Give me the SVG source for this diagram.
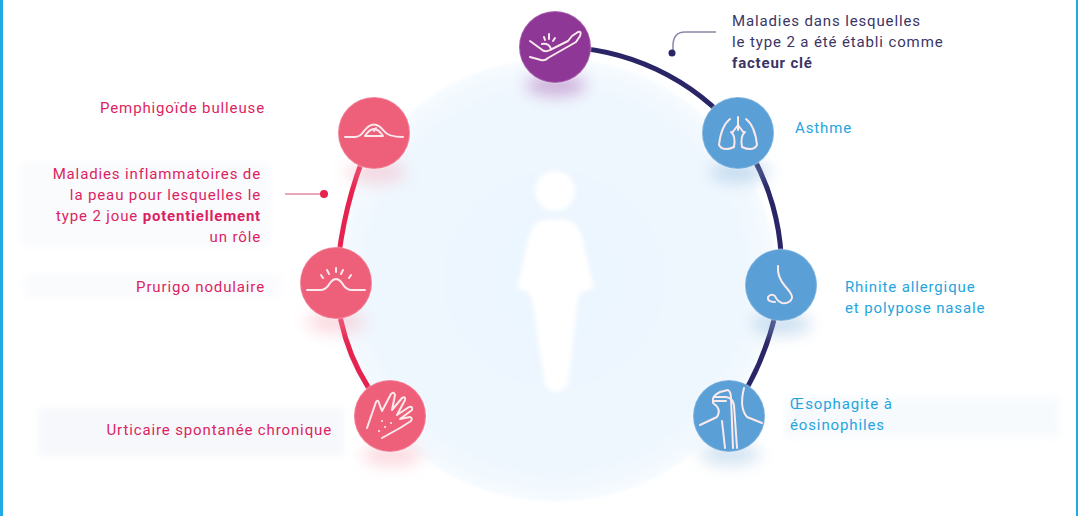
<svg xmlns="http://www.w3.org/2000/svg" width="1078" height="516" viewBox="0 0 1078 516">
<defs>
<style>
text{font-family:"Roboto","Liberation Sans",sans-serif;font-size:15px;letter-spacing:.87px}
.r{fill:#dc1f62;text-anchor:end}.b{fill:#25a5e0}.n{fill:#3a3565}
.bold{font-weight:700;letter-spacing:.8px}
.ic{fill:none;stroke:#fbe9ec;stroke-width:2;stroke-linecap:round;stroke-linejoin:round}
.ring{stroke:#fff;stroke-opacity:.22;stroke-width:2}
</style>
<filter id="bl" x="-60%" y="-100%" width="220%" height="300%"><feGaussianBlur stdDeviation="8"/></filter>
<filter id="soft" x="-20%" y="-20%" width="140%" height="140%"><feGaussianBlur stdDeviation="2"/></filter>
<filter id="haze" x="-10%" y="-30%" width="120%" height="160%"><feGaussianBlur stdDeviation="4"/></filter>
<radialGradient id="halo" cx=".5" cy=".5" r=".5"><stop offset="0" stop-color="#ebf5fe"/><stop offset=".85" stop-color="#eff7fe"/><stop offset="1" stop-color="#f5fafe"/></radialGradient>
</defs>
<rect width="1078" height="516" fill="#fff"/>
<rect x="0" y="0" width="3" height="516" fill="#1fa9e5"/>
<rect x="1076" y="0" width="2" height="516" fill="#1fa9e5"/>
<g id="backdrop">
<circle cx="555" cy="280" r="221" fill="url(#halo)" filter="url(#soft)"/>
<g fill="#fafbfd" filter="url(#haze)">
<rect x="20" y="162" width="250" height="85"/>
<rect x="24" y="274" width="258" height="24"/>
<rect x="38" y="408" width="306" height="48" fill="#f6f8fb"/>
<rect x="785" y="397" width="275" height="41" fill="#f7fafd"/>
</g>
<g id="figure" fill="#fff" filter="url(#soft)">
<circle cx="555" cy="191" r="20"/>
<path d="M538 222Q555 216 572 222Q582 228 585 250L594 288L582 292L578 300L568 385Q555 400 545 385L532 300L528 292L517 288L526 250Q529 228 538 222Z"/>
</g>
</g>
<g id="connectors" fill="none" stroke-width="5">
<path d="M555 47A235 235 0 0 1 738 133" stroke="#2a2566"/>
<path d="M738 133A235 235 0 0 1 781 285" stroke="#2a2566"/>
<path d="M781 285Q770 360 729 416" stroke="#2a2566"/>
<path d="M374 133Q342 200 336 283" stroke="#e5234e"/>
<path d="M336 283Q340 360 390 416" stroke="#e5234e"/>
<path d="M716 32H685Q673 32 673 46V53" stroke="#8a88a8" stroke-width="1.5"/>
<path d="M285 194H322" stroke="#e58aa3" stroke-width="1.5"/>
<circle cx="672" cy="53" r="3.5" fill="#2a2566" stroke="none"/>
<circle cx="324" cy="194" r="4" fill="#e5234e" stroke="none"/>
</g>
<g id="node-purple">
<ellipse cx="556" cy="85" rx="30" ry="11" fill="#a45ab0" opacity=".45" filter="url(#bl)"/>
<circle class="ring" cx="555" cy="47" r="36" fill="#8e3797"/>
<path class="ic" d="M530 41L541 49Q545 53 550 50L568 41L572 36L578 32Q582 31 580 36L576 42L548 58Q545 61 541 60L530 57"/>
<path class="ic" stroke-width="1.5" d="M542 44Q549 43 551 49M545 40L544 37M549 39L549 34M553 41L555 38"/>
</g>
<g id="node-asthme">
<ellipse cx="740" cy="172" rx="30" ry="11" fill="#8fb9df" opacity=".45" filter="url(#bl)"/>
<circle class="ring" cx="738" cy="133" r="36" fill="#5a9fd6"/>
<path class="ic" stroke-width="1.5" d="M738 117V130M738 125L732 133M738 125L744 133M730 119Q721 126 719 145Q723 152 734 147Q736 136 731 132M746 119Q755 126 757 145Q753 152 742 147Q740 136 745 132"/>
</g>
<g id="node-rhinite">
<ellipse cx="781" cy="324" rx="30" ry="11" fill="#8fb9df" opacity=".45" filter="url(#bl)"/>
<circle class="ring" cx="781" cy="285" r="36" fill="#5a9fd6"/>
<path class="ic" stroke-width="1.5" d="M778 266Q777 277 785 286Q793 295 792 298Q790 304 782 303Q777 301 775 296Q771 293 768 297Q767 302 775 302"/>
</g>
<g id="node-oesophagite">
<ellipse cx="730" cy="454" rx="30" ry="11" fill="#8fb9df" opacity=".4" filter="url(#bl)"/>
<circle class="ring" cx="729" cy="416" r="36" fill="#5a9fd6"/>
<path class="ic" stroke-width="1.5" d="M700 425L717 417Q722 409 713 403Q711 396 720 392L728 390Q731 392 731 398L733 448M737 448L734 405Q733 398 726 397L714 397M713 401L726 401M722 421L725 448M744 388Q739 408 747 417L762 423"/>
</g>
<g id="node-urticaire">
<ellipse cx="392" cy="455" rx="30" ry="11" fill="#f5a3b3" opacity=".4" filter="url(#bl)"/>
<circle class="ring" cx="390" cy="416" r="36" fill="#ee5f7a"/>
<path class="ic" stroke-width="1.7" d="M367 428L376 402Q378 399 379 403L382 411L391 394Q394 391 395 395L392 410L402 398Q406 396 405 400L397 415L409 407Q413 406 412 410L400 419L410 417Q413 418 411 421L400 428L382 438"/>
<path class="ic" stroke-width="2.5" d="M382 421h.1M391 423h.1M379 431h.1M385 427h.1"/>
</g>
<g id="node-prurigo">
<ellipse cx="336" cy="322" rx="30" ry="11" fill="#f5a3b3" opacity=".4" filter="url(#bl)"/>
<circle class="ring" cx="336" cy="283" r="36" fill="#ee5f7a"/>
<path class="ic" d="M307 290H321Q326 290 330 283Q336 275 342 283Q346 290 351 290H365"/>
<path class="ic" d="M321 275L323 278M327 270L329 274M336 268V272M343 270L341 274M351 275L349 278"/>
</g>
<g id="node-pemphigoide">
<ellipse cx="376" cy="172" rx="30" ry="11" fill="#f5a3b3" opacity=".4" filter="url(#bl)"/>
<circle class="ring" cx="374" cy="133" r="36" fill="#ee5f7a"/>
<path class="ic" d="M345 137H355Q360 137 364 131Q374 118 384 131Q388 137 403 137"/>
<path class="ic" stroke-width="1.5" d="M365 136Q374 122 383 136ZM374 131L376 128"/>
</g>
<g id="labels">
<text class="n" x="732" y="26">Maladies dans lesquelles</text>
<text class="n" x="732" y="47">le type 2 a été établi comme</text>
<text class="n bold" x="732" y="68">facteur clé</text>
<text class="b" x="795" y="133">Asthme</text>
<text class="b" x="845" y="292">Rhinite allergique</text>
<text class="b" x="845" y="313">et polypose nasale</text>
<text class="b" x="790" y="409">Œsophagite à</text>
<text class="b" x="790" y="430">éosinophiles</text>
<text class="r" x="265" y="113">Pemphigoïde bulleuse</text>
<text class="r" x="261" y="179">Maladies inflammatoires de</text>
<text class="r" x="261" y="200">la peau pour lesquelles le</text>
<text class="r" x="261" y="221">type 2 joue <tspan class="bold">potentiellement</tspan></text>
<text class="r" x="261" y="242">un rôle</text>
<text class="r" x="265" y="292">Prurigo nodulaire</text>
<text class="r" x="332" y="435">Urticaire spontanée chronique</text>
</g>
</svg>
